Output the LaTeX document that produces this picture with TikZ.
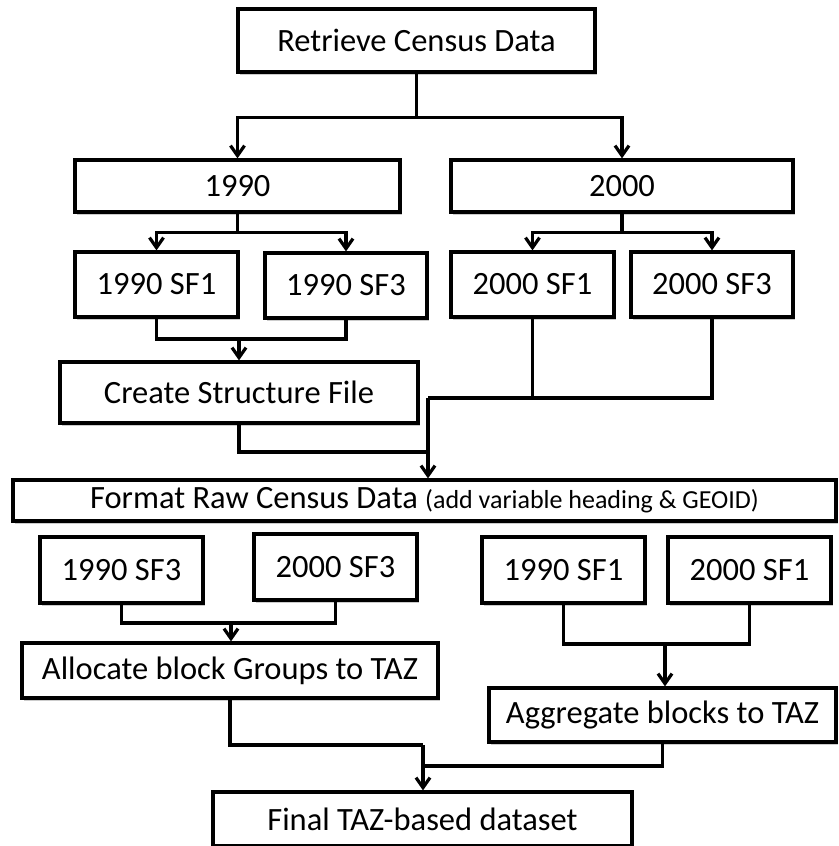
\documentclass[tikz,border=0pt]{standalone}
\usepackage{fontspec}
\setmainfont{Carlito}
\usetikzlibrary{arrows.meta,shadows,positioning}

\tikzset{
  box/.style={draw, fill=white, line width=3.2pt, inner sep=0pt,
    font=\fontsize{32.5}{38}\selectfont,
    drop shadow={shadow xshift=2pt, shadow yshift=-2.5pt, opacity=0.4}},
  link/.style={line width=3.2pt},
  arr/.style={link, -{Straight Barb[length=10pt,width=14pt]}},
}

\begin{document}
\begin{tikzpicture}[x=1pt, y=-1pt]
\useasboundingbox (0,0) rectangle (838,846);

% census retrieval
\node[box, minimum width=357pt, minimum height=63pt] (ret) at (416.5,40.5) {Retrieve Census Data};
\node[box, minimum width=325pt, minimum height=52pt] (y1990) at (237.5,186) {1990};
\node[box, minimum width=342pt, minimum height=52pt] (y2000) at (622,186) {2000};

\node[box, minimum width=163pt, minimum height=65pt] (a1) at (156.5,284.5) {1990 SF1};
\node[box, minimum width=162pt, minimum height=65pt] (a3) at (346,285.5) {1990 SF3};
\node[box, minimum width=163pt, minimum height=65pt] (b1) at (532.5,284.5) {2000 SF1};
\node[box, minimum width=162pt, minimum height=65pt] (b3) at (712,284.5) {2000 SF3};

\node[box, minimum width=358pt, minimum height=61pt] (csf) at (239,392.5) {Create Structure File};
\node[box, minimum width=823pt, minimum height=41pt] (fmt) at (424.5,500.5)
  {Format Raw Census Data {\fontsize{26}{30}\selectfont (add variable heading \& GEOID)}};

% allocation to TAZ
\node[box, minimum width=163pt, minimum height=66pt] (c3) at (121.5,570) {1990 SF3};
\node[box, minimum width=163pt, minimum height=66pt] (c4) at (335.5,567) {2000 SF3};
\node[box, minimum width=163pt, minimum height=66pt] (d1) at (563.5,570) {1990 SF1};
\node[box, minimum width=163pt, minimum height=66pt] (d2) at (749.5,570) {2000 SF1};

\node[box, minimum width=416pt, minimum height=55pt] (alloc) at (230,670.5) {Allocate block Groups to TAZ};
\node[box, minimum width=347pt, minimum height=54pt] (aggr) at (662.5,715) {Aggregate blocks to TAZ};
\node[box, minimum width=419pt, minimum height=54pt] (final) at (422.5,819) {Final TAZ-based dataset};

% connectors
\draw[link] (ret.south) -- ++(0,44) coordinate (j1);
\draw[arr] (j1) -| (y1990.north);
\draw[arr] (j1) -| (y2000.north);

\draw[link] (y1990.south) -- ++(0,19) coordinate (j2);
\draw[arr] (j2) -| (a1.north);
\draw[arr] (j2) -| (a3.north);
\draw[link] (y2000.south) -- ++(0,19) coordinate (j3);
\draw[arr] (j3) -| (b1.north);
\draw[arr] (j3) -| (b3.north);

\coordinate (j4) at (239,339);
\draw[link] (a1.south) |- (j4) -| (a3.south);
\draw[arr] (j4) -- (csf.north);

\coordinate (j5) at (428,398);
\coordinate (j6) at (428,452);
\draw[link] (b3.south) |- (j5);
\draw[link] (b1.south) -- (b1.south |- j5);
\draw[link] (csf.south) |- (j6);
\draw[arr] (j5) -- (j5 |- fmt.north);

\coordinate (j7) at (231,623);
\draw[link] (c3.south) |- (j7) -| (c4.south);
\draw[arr] (j7) -- (j7 |- alloc.north);
\coordinate (j8) at (665,644);
\draw[link] (d1.south) |- (j8) -| (d2.south);
\draw[arr] (j8) -- (j8 |- aggr.north);

\coordinate (j9) at (423,745);
\coordinate (j10) at (423,766);
\draw[link] (alloc.south) |- (j9);
\draw[link] (aggr.south) |- (j10);
\draw[arr] (j9) -- (j9 |- final.north);
\end{tikzpicture}
\end{document}
